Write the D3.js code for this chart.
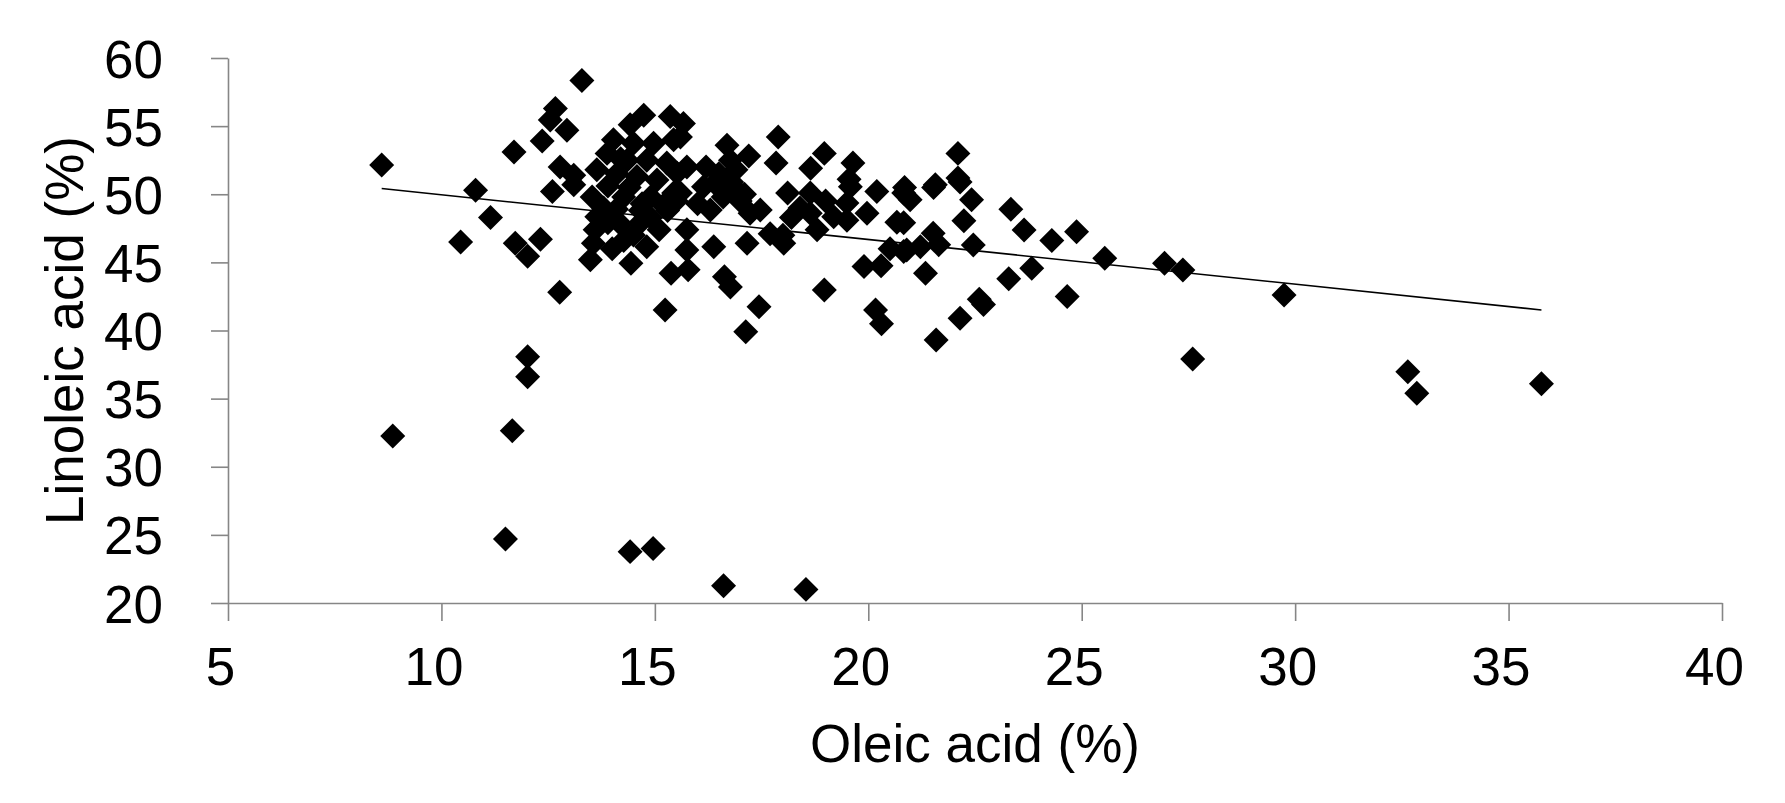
<!DOCTYPE html>
<html>
<head>
<meta charset="utf-8">
<script src="https://cdn.jsdelivr.net/npm/d3@7"></script>
<style>
  html, body { margin: 0; padding: 0; background: #ffffff; }
  svg { display: block; }
  text { font-family: "Liberation Sans", Arial, sans-serif; fill: #000; }
</style>
</head>
<body>
<svg id="chart" width="1785" height="803"></svg>
<script>
// ---- Data ----
const xTicks = [5, 10, 15, 20, 25, 30, 35, 40];
const yTicks = [20, 25, 30, 35, 40, 45, 50, 55, 60];
const xTitle = "Oleic acid (%)";
const yTitle = "Linoleic acid (%)";

const oleic = [
  8.6, 8.86, 10.45, 10.8, 11.15, 11.5, 11.66, 11.73, 11.7, 12.02, 12.02, 12.02, 12.32, 12.36, 12.67, 12.55, 12.94, 12.6, 12.77, 12.78, 13.1, 13.1, 13.29,
  13.53, 13.64, 13.6, 13.56, 13.49, 13.64, 13.88, 14.03, 14.11, 14.27, 14.66, 14.66, 14.27, 14.81, 14.44, 14.42, 14.74, 14.5, 14.97, 14.35, 14.81, 14.58, 15.05, 15.28, 15.52, 15.44, 15.36, 15.67, 15.6, 15.75, 15.44, 15.38, 15.24, 15.78, 15.75, 15.75, 15.6, 13.9, 14.1, 14.4, 14.9, 14.9, 15.1, 14.5, 14.0, 13.8, 15.2, 14.2,
  14.2, 14.7, 15.3, 15.5, 13.9,
  16.14, 16.3, 16.92, 17.23, 17.47, 16.38, 16.63, 16.77, 17.16, 17.7, 18.02, 18.0, 17.44, 17.13, 16.69, 16.77, 16.5, 16.9, 17.0, 16.6, 16.2, 17.2, 16.0, 16.4, 16.8, 17.1,
  18.11, 18.64, 18.64, 18.8, 19.19, 19.5, 19.58, 19.5, 19.97, 20.2, 20.67, 20.83, 20.51, 20.83, 19.9, 20.3, 18.97, 20.17, 20.31, 17.89, 17.84, 18.97, 18.65, 19.64, 19.55, 18.4, 18.2, 19.0,
  20.98, 21.53, 22.15, 22.42, 20.83, 22.24, 21.52, 20.9, 21.22, 21.65, 22.46, 21.34, 23.34, 23.65, 24.3, 24.88, 23.83, 23.29, 25.54, 24.66, 22.6, 22.7, 22.15, 21.59, 22.1, 22.1, 21.57, 20.85,
  26.94, 27.37, 27.6, 29.74, 32.64, 32.85, 35.77,
  14.42, 14.96, 16.61, 18.54
];
const linoleic = [
  52.15, 32.26, 46.5, 50.3, 48.3, 24.7, 32.65, 46.4, 53.1, 45.45, 38.08, 36.6, 46.7, 53.9, 56.3, 55.45, 54.7, 50.2, 42.8, 52.0, 51.4, 50.7, 58.35,
  49.8, 48.35, 47.4, 46.4, 45.2, 51.8, 53.0, 54.0, 51.5, 49.8, 48.8, 47.9, 46.6, 46.15, 44.93, 55.1, 55.8, 53.75, 53.75, 52.5, 52.5, 51.3, 51.05, 52.3, 51.55, 54.0, 55.7, 55.2, 54.2, 52.0, 50.1, 44.2, 41.5, 44.45, 45.9, 47.4, 50.1, 47.9, 48.9, 50.5, 49.8, 48.3, 47.4, 47.0, 46.0, 49.0, 49.2, 52.6,
  47.8, 49.3, 48.8, 49.5, 50.6,
  50.55, 48.85, 50.3, 48.6, 48.85, 46.15, 43.95, 43.2, 46.4, 47.1, 46.4, 47.0, 41.75, 39.9, 53.6, 52.5, 51.5, 51.8, 49.5, 49.8, 52.0, 52.8, 49.3, 50.8, 50.9, 50.0,
  50.1, 50.1, 48.6, 47.4, 48.35, 48.1, 50.55, 49.35, 48.6, 50.2, 47.95, 50.1, 46.0, 45.8, 44.7, 44.75, 42.97, 41.5, 40.5, 54.2, 52.3, 53.0, 51.9, 52.3, 51.1, 49.0, 48.3, 49.5,
  49.6, 50.5, 50.9, 49.6, 47.9, 48.05, 47.13, 45.9, 46.15, 46.3, 46.28, 44.2, 48.9, 47.38, 46.6, 47.25, 44.57, 43.8, 45.3, 42.5, 42.3, 41.9, 40.9, 39.3, 53.0, 51.2, 50.7, 50.5,
  44.93, 44.44, 37.9, 42.6, 36.98, 35.4, 36.1,
  23.77, 24.0, 21.27, 21.0
];

// Linear trend line (Excel-style)
const trendSlope = -0.328;
const trendIntercept = 53.24;

// ---- Layout ----
const svg = d3.select("#chart");
const x = d3.scaleLinear().domain([5, 40]).range([228, 1722]);
const y = d3.scaleLinear().domain([20, 60]).range([603, 58]);
const axisColor = "#868686";
const fontSize = 53;

// X axis
const gx = svg.append("g").attr("transform", `translate(0,${y(20)})`)
  .call(d3.axisBottom(x).tickValues(xTicks).tickSize(18).tickSizeOuter(0).tickFormat(d3.format("d")));
gx.select(".domain").attr("stroke", axisColor).attr("stroke-width", 1.6);
gx.selectAll(".tick line").attr("stroke", axisColor).attr("stroke-width", 1.6);
gx.selectAll(".tick text")
  .attr("font-family", "Liberation Sans, Arial, sans-serif")
  .attr("font-size", fontSize).attr("fill", "#000")
  .attr("y", 82).attr("dy", 0).attr("dx", -8);

// Y axis
const gy = svg.append("g").attr("transform", `translate(${x(5)},0)`)
  .call(d3.axisLeft(y).tickValues(yTicks).tickSize(17).tickSizeOuter(0).tickFormat(d3.format("d")));
gy.select(".domain").attr("stroke", axisColor).attr("stroke-width", 1.6);
gy.selectAll(".tick line").attr("stroke", axisColor).attr("stroke-width", 1.6);
gy.selectAll(".tick text")
  .attr("font-family", "Liberation Sans, Arial, sans-serif")
  .attr("font-size", fontSize).attr("fill", "#000")
  .attr("x", -65).attr("dy", "0.36em");

// Points
const pts = oleic.map((v, i) => ({ x: v, y: linoleic[i] }));
const diamond = d3.symbol().type(d3.symbolSquare).size(312);
svg.append("g").selectAll("path").data(pts).join("path")
  .attr("d", diamond)
  .attr("transform", d => `translate(${x(d.x)},${y(d.y)}) rotate(45)`)
  .attr("fill", "#000");

// Trend line
const ext = d3.extent(oleic);
const line = d3.line().x(d => x(d)).y(d => y(trendIntercept + trendSlope * d));
svg.append("path").datum(ext).attr("d", line)
  .attr("fill", "none").attr("stroke", "#000").attr("stroke-width", 1.6);

// Titles
svg.append("text").attr("x", (x(5) + x(40)) / 2).attr("y", 762)
  .attr("text-anchor", "middle").attr("font-size", fontSize).text(xTitle);
svg.append("text").attr("transform", `translate(83,${(y(20) + y(60)) / 2}) rotate(-90)`)
  .attr("text-anchor", "middle").attr("font-size", fontSize).text(yTitle);
</script>
</body>
</html>
